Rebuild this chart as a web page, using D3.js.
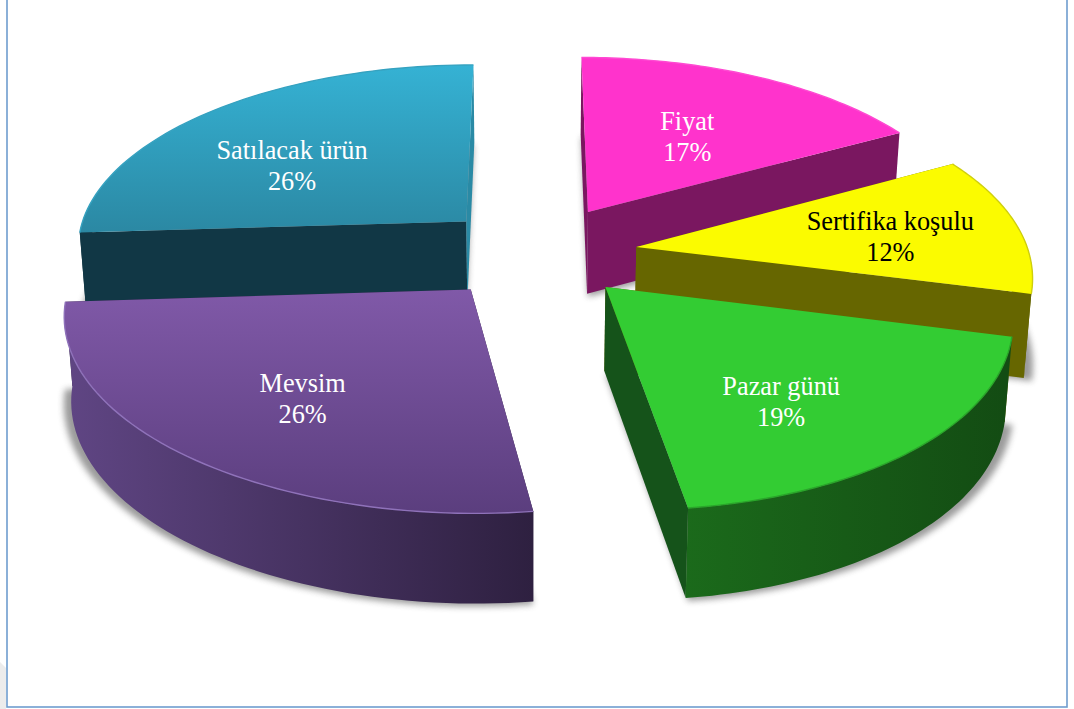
<!DOCTYPE html>
<html lang="tr">
<head>
<meta charset="utf-8">
<title>Pazar yeri tercih nedenleri</title>
<script src="https://cdn.jsdelivr.net/npm/d3@7/dist/d3.min.js"></script>
<style>
  html, body { margin: 0; padding: 0; background: #fff; }
  svg { display: block; }
  text { font-family: "Liberation Serif", "Times New Roman", serif; font-size: 26.3px; text-anchor: middle; }
</style>
</head>
<body>
<svg id="chart" width="1074" height="709"></svg>
<script>
// Chart data
const categories = ["Fiyat", "Sertifika koşulu", "Pazar günü", "Mevsim", "Satılacak ürün"];
const shares = [17, 12, 19, 26, 26];

// How far each slice is pulled out of the pie, in radii across and into the plane
const pullAcross = [0.152, 0.272, 0.187, -0.148, -0.166];
const pullInto   = [0.240, 0.044, -0.169, -0.182, 0.186];

// Slice styling
const topStart  = ["#ff33cc", "#fbfb00", "#33cc33", "#8059a8", "#35b2d4"];
const topEnd    = ["#ff33cc", "#fbfb00", "#33cc33", "#5b3e7e", "#2b88a3"];
const wallStart = ["#7a1760", "#666600", "#1b6a1b", "#5f4583", "#113745"];
const wallEnd   = ["#7a1760", "#666600", "#134c13", "#2e2040", "#113745"];
const faceStart = ["#7a1760", "#666600", "#666600", "#2e2040", "#113745"];
const faceEnd   = ["#7a1760", "#666600", "#15531a", "#2e2040", "#2a8aa5"];
const edgeGlow  = ["#ff4ad2", "#cfcf10", "#2aa52a", "#8f72ba", "#36a2c0"];
const labelInk  = ["#ffffff", "#000000", "#ffffff", "#ffffff", "#ffffff"];

// Label placement: distance from the slice tip and a turn away from the bisector (degrees)
const labelRadius = [0.54, 0.66, 0.667, 0.651, 0.585];
const labelTurn   = [1.2, 2, 6.6, -2.9, -8.4];

// Camera of the tilted pie
const view = { cx: 530, cy: 255, rx: 393, ry: 185, persp: 0.13, depth: 83, shrink: 0.985, nearShear: 10 };

const svg = d3.select("#chart");
const defs = svg.append("defs");

defs.append("filter").attr("id", "soft").attr("x", "-10%").attr("y", "-10%")
  .attr("width", "120%").attr("height", "120%")
  .append("feGaussianBlur").attr("stdDeviation", 3);
defs.append("filter").attr("id", "bevel")
  .attr("filterUnits", "userSpaceOnUse").attr("x", 0).attr("y", 0).attr("width", 1074).attr("height", 709)
  .append("feGaussianBlur").attr("stdDeviation", 0.7);

// Projects a point of the pie plane; lift = 0 is the top face, 1 the underside
function project(x, z, lift) {
  const s = 1 / (1 + view.persp * z);
  const near = Math.max(0, -z);
  let px = view.cx + view.rx * x * s + view.nearShear * near * near;
  let py = view.cy - view.ry * z * s;
  if (lift) {
    px = view.cx + (px - view.cx) * view.shrink;
    py += view.depth * Math.sqrt(s);
  }
  return [px, py];
}

const pie = d3.pie().sort(null).value(d => d)(shares);
const line = d3.line();
const closed = pts => line(pts) + "Z";

// Page frame and the grey corner outside it
svg.append("path").attr("d", "M0,662 L6,668 L6,709 L0,709Z").attr("fill", "#ececec");
svg.append("rect").attr("x", 7).attr("y", -3).attr("width", 1060).attr("height", 710)
  .attr("fill", "#fff").attr("stroke", "#6f9dcf").attr("stroke-width", 1.6);

function sliceGeometry(arc, i) {
  const mid = (arc.startAngle + arc.endAngle) / 2;
  const ox = pullAcross[i];
  const oz = pullInto[i];
  const rim = (t, lift) => project(ox + Math.sin(t), oz + Math.cos(t), lift);
  const steps = d3.range(0, 61).map(n => arc.startAngle + (arc.endAngle - arc.startAngle) * n / 60);
  return { mid, ox, oz, rim, steps };
}

// Back slices first, the two front slices last
[4, 0, 1, 2, 3].forEach(i => {
  const arc = pie[i];
  const { ox, oz, rim, steps } = sliceGeometry(arc, i);
  const apexTop = project(ox, oz, 0);
  const apexLow = project(ox, oz, 1);
  const topRim = steps.map(t => rim(t, 0));
  const lowRim = steps.map(t => rim(t, 1));
  const g = svg.append("g").attr("class", "slice");

  const ys = topRim.map(p => p[1]).concat(apexTop[1]);
  const xs = lowRim.map(p => p[0]);
  const topId = "top" + i, wallId = "wall" + i;
  const topGrad = defs.append("linearGradient").attr("id", topId).attr("gradientUnits", "userSpaceOnUse")
    .attr("x1", 0).attr("x2", 0).attr("y1", d3.min(ys)).attr("y2", d3.max(ys));
  topGrad.append("stop").attr("offset", 0).attr("stop-color", topStart[i]);
  topGrad.append("stop").attr("offset", 1).attr("stop-color", topEnd[i]);
  const wallGrad = defs.append("linearGradient").attr("id", wallId).attr("gradientUnits", "userSpaceOnUse")
    .attr("y1", 0).attr("y2", 0).attr("x1", d3.min(xs)).attr("x2", d3.max(xs));
  wallGrad.append("stop").attr("offset", 0).attr("stop-color", wallStart[i]);
  wallGrad.append("stop").attr("offset", 1).attr("stop-color", wallEnd[i]);

  // Soft shadow cast by the underside, pushed away from the middle of the pie
  const shadow = [apexLow, ...lowRim].map(p => [
    view.cx + (p[0] - view.cx) * 1.016,
    p[1] + 3
  ]);
  g.append("path").attr("d", closed(shadow)).attr("fill", "#666").attr("opacity", 0.65).attr("filter", "url(#soft)");

  // Cut faces
  const facePts = (t) => [apexTop, rim(t, 0), rim(t, 1), apexLow];
  g.append("path").attr("d", closed(facePts(arc.startAngle))).attr("fill", faceStart[i]);
  g.append("path").attr("d", closed(facePts(arc.endAngle))).attr("fill", faceEnd[i]);

  // Outer wall: only the stretch facing the viewer
  const front = steps.filter(t => Math.cos(t) < 0.12);
  if (front.length > 1) {
    const pts = front.map(t => rim(t, 0)).concat(front.slice().reverse().map(t => rim(t, 1)));
    g.append("path").attr("d", closed(pts)).attr("fill", `url(#${wallId})`);
  }

  // Top face with a soft rim highlight
  g.append("path").attr("d", closed([apexTop, ...topRim])).attr("fill", `url(#${topId})`);
  g.append("path").attr("d", line(topRim)).attr("fill", "none")
    .attr("stroke", edgeGlow[i]).attr("stroke-width", 1.4).attr("filter", "url(#bevel)");
});

// Labels sit on the top faces, above every slice
pie.forEach((arc, i) => {
  const { mid, ox, oz } = sliceGeometry(arc, i);
  const r = labelRadius[i];
  const a = mid + labelTurn[i] * Math.PI / 180;
  const [lx, ly] = project(ox + r * Math.sin(a), oz + r * Math.cos(a), 0);
  const t = svg.append("text").attr("x", lx).attr("y", ly - 6).attr("fill", labelInk[i]);
  t.append("tspan").attr("x", lx).text(categories[i]);
  t.append("tspan").attr("x", lx).attr("dy", 31).text(d3.format(".0f")(shares[i]) + "%");
});
</script>
</body>
</html>
